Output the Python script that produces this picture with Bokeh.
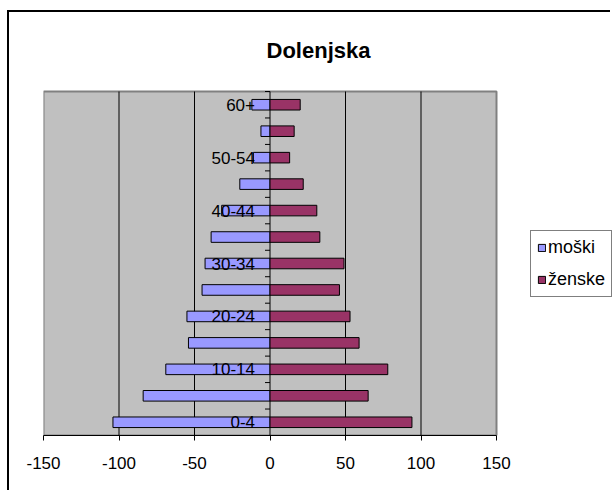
from bokeh.plotting import figure
from bokeh.models import (Range1d, FixedTicker, Legend, LegendItem, Label,
                          ColumnDataSource)
from bokeh.core.properties import value
from bokeh.embed import file_html
from bokeh.resources import INLINE

# ---- data ----
age_groups = ["0-4", "5-9", "10-14", "15-19", "20-24", "25-29", "30-34",
              "35-39", "40-44", "45-49", "50-54", "55-59", "60+"]
moski = [-104, -84, -69, -54, -55, -45, -43, -39, -32, -20, -11, -6, -12]
zenske = [94, 65, 78, 59, 53, 46, 49, 33, 31, 22, 13, 16, 20]
x_ticks = [-150, -100, -50, 0, 50, 100, 150]
title_text = "Dolenjska"

FONT = "Liberation Sans"

n = len(age_groups)
centers = [i + 0.5 for i in range(n)]
shown_labels = [g if i % 2 == 0 else "" for i, g in enumerate(age_groups)]
src = ColumnDataSource(dict(y=centers, m=moski, z=zenske, lab=shown_labels))

# ---- layout (pixels) ----
W, H = 603, 480            # canvas (page offset 9,12 because of margin+border)
MB_LEFT, MB_BOTTOM = 34, 57
frame_w = W - MB_LEFT
frame_h = H - MB_BOTTOM
plot_w, plot_h = 453.0, 344.0   # grey plot-area size in pixels
xmin, xmax = x_ticks[0], x_ticks[-1]
x_end = xmin + frame_w * (xmax - xmin) / plot_w
y_end = frame_h * n / plot_h

p = figure(width=W, height=H, output_backend="svg", toolbar_location=None,
           x_range=Range1d(xmin, x_end), y_range=Range1d(0, y_end),
           y_axis_location=None,
           min_border_left=MB_LEFT, min_border_right=0,
           min_border_top=0, min_border_bottom=MB_BOTTOM)
# outer chart-area border (cropped at right / bottom like the original)
p.styles = {"margin-left": "7px", "margin-top": "10px",
            "border-left": "2px solid black", "border-top": "2px solid black"}

p.background_fill_color = "white"
p.border_fill_color = "white"
p.outline_line_color = None
p.xgrid.grid_line_color = None
p.ygrid.grid_line_color = None

# grey plot area
p.quad(left=[xmin], right=[xmax], bottom=[0], top=[n],
       fill_color="#C0C0C0", line_color="#808080", line_width=2)

# vertical grid lines
inner = x_ticks[1:-1]
p.segment(x0=inner, x1=inner, y0=[0] * len(inner), y1=[n] * len(inner),
          line_color="black", line_width=1)

# x axis
ax = p.xaxis[0]
ax.bounds = (xmin, xmax)
ax.ticker = FixedTicker(ticks=x_ticks)
ax.major_label_overrides = {t: str(t) for t in x_ticks}
ax.axis_line_color = "black"
ax.axis_line_width = 1
ax.major_tick_out = 5
ax.major_tick_in = 0
ax.minor_tick_line_color = None
ax.major_tick_line_color = "black"
ax.major_label_text_font = FONT
ax.major_label_text_font_size = "17px"
ax.major_label_text_color = "black"
ax.major_label_standoff = 16

# bars
r_m = p.hbar(y="y", left=0, right="m", height=0.4, source=src,
             fill_color="#9999FF", line_color="black", line_width=1)
r_z = p.hbar(y="y", left=0, right="z", height=0.4, source=src,
             fill_color="#993366", line_color="black", line_width=1)

# central category axis ticks
bounds = list(range(n + 1))
tick_len = 5 * (xmax - xmin) / plot_w
p.segment(x0=[0] * len(bounds), x1=[-tick_len] * len(bounds), y0=bounds,
          y1=bounds, line_color="black", line_width=1)

# category labels
p.text(x=0, y="y", text="lab", source=src, x_offset=-15,
       text_align="right", text_baseline="middle",
       text_font=value(FONT), text_font_size="17px",
       text_color="black")

# legend
legend = Legend(items=[LegendItem(label="moški", renderers=[r_m]),
                       LegendItem(label="ženske", renderers=[r_z])],
                location=(487, 138), orientation="vertical",
                border_line_color="black", border_line_width=1,
                background_fill_color="white", background_fill_alpha=1,
                label_text_font=FONT, label_text_font_size="18px",
                label_text_color="black",
                glyph_width=9, glyph_height=9, label_standoff=2,
                padding=6, spacing=11, label_height=20, margin=0)
p.add_layout(legend)

# title
p.add_layout(Label(x=275, y=385, x_units="screen", y_units="screen",
                   text=title_text, text_align="center",
                   text_baseline="alphabetic", text_font=FONT,
                   text_font_size="22px", text_font_style="bold",
                   text_color="black"))

open("out.html", "w").write(file_html(p, INLINE))
